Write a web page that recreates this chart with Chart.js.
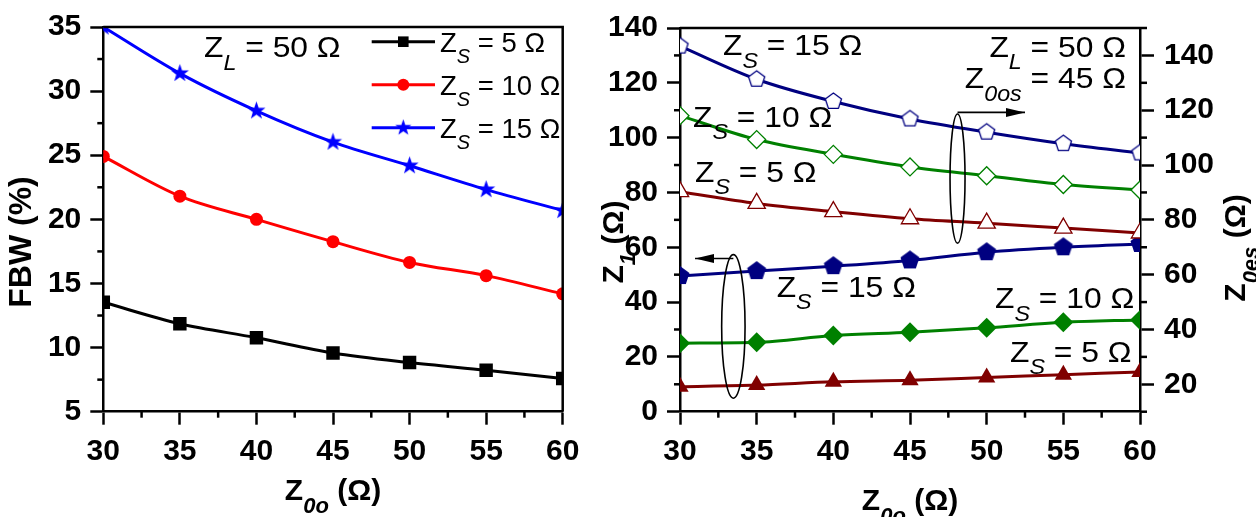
<!DOCTYPE html>
<html>
<head>
<meta charset="utf-8">
<script src="https://cdn.jsdelivr.net/npm/chart.js@4.4.1/dist/chart.umd.min.js"></script>
<style>
  html, body { margin: 0; padding: 0; background: #fff; }
  #wrap { position: relative; width: 1256px; height: 517px; overflow: hidden; }
  canvas { position: absolute; top: 0; }
  #left { left: 0; }
  #right { left: 600px; }
</style>
</head>
<body>
<div id="wrap">
  <canvas id="left" width="600" height="517"></canvas>
  <canvas id="right" width="656" height="517"></canvas>
</div>
<script>
/* Two-panel figure: FBW vs Z0o (left), Z1 / Z0es vs Z0o (right). */

const FONT = "'Liberation Sans', Arial, Helvetica, sans-serif";

// ----- Data -----
const Z0O_VALUES = [30, 35, 40, 45, 50, 55, 60];

const FBW_ZS5  = [13.53, 11.86, 10.77, 9.58, 8.83, 8.23, 7.59];
const FBW_ZS10 = [24.91, 21.81, 20.00, 18.26, 16.64, 15.61, 14.19];
const FBW_ZS15 = [35.00, 31.38, 28.46, 26.02, 24.18, 22.32, 20.69];

const Z1_ZS5   = [9.1, 9.7, 10.9, 11.5, 12.5, 13.5, 14.5];
const Z1_ZS10  = [25.0, 25.3, 27.8, 29.0, 30.6, 32.6, 33.5];
const Z1_ZS15  = [49.5, 51.3, 53.1, 55.2, 58.2, 60.0, 61.2];

const Z0ES_ZS5  = [90.3, 86.0, 83.0, 80.4, 78.8, 77.0, 75.2];
const Z0ES_ZS10 = [118.0, 109.3, 103.9, 99.3, 96.1, 92.9, 90.9];
const Z0ES_ZS15 = [143.4, 131.3, 123.2, 116.8, 112.0, 107.8, 104.4];

const ZS_LABELS = ["5", "10", "15"];

// ----- Tick labels -----
const X_TICKS    = [30, 35, 40, 45, 50, 55, 60];
const FBW_TICKS  = [5, 10, 15, 20, 25, 30, 35];
const Z1_TICKS   = [0, 20, 40, 60, 80, 100, 120, 140];
const Z0ES_TICKS = [20, 40, 60, 80, 100, 120, 140];

// ----- Layout (pixels) -----
const PLOT_TOP = 25, PLOT_BOTTOM = 411.7;
const AXIS_W = 2.5;

const pts = (ys) => Z0O_VALUES.map((x, i) => ({ x, y: ys[i] }));
const mids = (arr) => arr.slice(1).map((v, i) => (v + arr[i]) / 2);

// ----- Marker images (star, pentagon) -----
function polyMarker(r, n, inner, fill, stroke, lw) {
  const s = Math.ceil(2 * r + lw + 2);
  const c = document.createElement("canvas");
  c.width = c.height = s;
  const g = c.getContext("2d");
  g.translate(s / 2, s / 2);
  const k = inner ? n * 2 : n;
  g.beginPath();
  for (let i = 0; i < k; i++) {
    const a = -Math.PI / 2 + i * 2 * Math.PI / k;
    const rr = inner && i % 2 ? inner : r;
    g.lineTo(Math.cos(a) * rr, Math.sin(a) * rr);
  }
  g.closePath();
  g.fillStyle = fill; g.fill();
  if (lw) { g.strokeStyle = stroke; g.lineWidth = lw; g.stroke(); }
  return c;
}
const STAR_BLUE   = polyMarker(9.5, 5, 3.8, "#0000ff", "#0000ff", 0);
const STAR_LEG    = polyMarker(8.5, 5, 3.4, "#0000ff", "#0000ff", 0);
const PENTA_FILL  = polyMarker(10, 5, 0, "#000080", "#000080", 0);
const PENTA_OPEN  = polyMarker(8.5, 5, 0, "#ffffff", "#000080", 1.3);

// ----- Rich text with subscripts -----
function rich(ctx, x, y, parts, o) {
  const size = o.size, sub = o.sub || Math.round(size * 0.72);
  const b = o.bold ? "bold " : "";
  const fMain = `${b}${size}px ${FONT}`, fSub = `italic ${b}${sub}px ${FONT}`;
  ctx.save();
  ctx.translate(x, y);
  if (o.rot) ctx.rotate(o.rot);
  ctx.scale(o.sx || 1, 1);
  let w = 0;
  const ws = parts.map(([t, k]) => { ctx.font = k ? fSub : fMain; const m = ctx.measureText(t).width; w += m; return m; });
  let cx = o.align === "center" ? -w / 2 : o.align === "right" ? -w : 0;
  ctx.fillStyle = "#000"; ctx.textAlign = "left"; ctx.textBaseline = "alphabetic";
  parts.forEach(([t, k], i) => {
    ctx.font = k ? fSub : fMain;
    ctx.fillText(t, cx, k ? size * 0.42 : 0);
    cx += ws[i];
  });
  ctx.restore();
}
const zs = (v) => [["Z"], ["S", 1], [` = ${v} Ω`]];
const NOTE = { size: 30, sx: 1.06 };

// ----- Shared plugin bits -----
function minorTicks(chart, specs) {
  const ctx = chart.ctx;
  ctx.save();
  ctx.strokeStyle = "#000"; ctx.lineWidth = AXIS_W;
  for (const sp of specs) {
    const s = chart.scales[sp.id];
    for (const v of sp.values) {
      const p = s.getPixelForValue(v);
      ctx.beginPath();
      if (s.isHorizontal()) { ctx.moveTo(p, s.top); ctx.lineTo(p, s.top + sp.len); }
      else if (s.position === "left") { ctx.moveTo(s.right, p); ctx.lineTo(s.right - sp.len, p); }
      else { ctx.moveTo(s.left, p); ctx.lineTo(s.left + sp.len, p); }
      ctx.stroke();
    }
  }
  ctx.restore();
}
function frame(chart, right) {
  const a = chart.chartArea, ctx = chart.ctx;
  ctx.save();
  ctx.strokeStyle = "#000"; ctx.lineWidth = AXIS_W;
  ctx.beginPath();
  ctx.moveTo(a.left, a.top); ctx.lineTo(a.right, a.top);
  if (right) ctx.lineTo(a.right, a.bottom);
  ctx.stroke();
  ctx.restore();
}
function arrowHead(ctx, x, y, dir) {
  ctx.beginPath();
  ctx.moveTo(x, y);
  ctx.lineTo(x - dir * 19, y - 4.5);
  ctx.lineTo(x - dir * 19, y + 4.5);
  ctx.closePath(); ctx.fill();
}
// ellipse around a group of curves, with an arrow to its axis (data coords)
function groupMark(chart, g) {
  const xs = chart.scales.x, ys = chart.scales.y, ctx = chart.ctx;
  const cx = xs.getPixelForValue(g.x);
  const top = ys.getPixelForValue(g.top), bot = ys.getPixelForValue(g.bottom);
  const ay = ys.getPixelForValue(g.arrowY), ax = xs.getPixelForValue(g.arrowX);
  ctx.save();
  ctx.strokeStyle = "#000"; ctx.fillStyle = "#000"; ctx.lineWidth = 1.6;
  ctx.beginPath();
  ctx.ellipse(cx, (top + bot) / 2, g.rx, (bot - top) / 2, 0, 0, Math.PI * 2);
  ctx.stroke();
  ctx.beginPath(); ctx.moveTo(cx, ay); ctx.lineTo(ax, ay); ctx.stroke();
  arrowHead(ctx, ax, ay, ax > cx ? 1 : -1);
  ctx.restore();
}

function xScale() {
  return {
    type: "linear", min: 30, max: 60,
    afterBuildTicks: (s) => { s.ticks = X_TICKS.map((v) => ({ value: v })); },
    ticks: { color: "#000", font: { family: FONT, size: 30, weight: "bold" }, padding: 9, maxRotation: 0, autoSkip: false },
    grid: { drawOnChartArea: false, tickLength: 13, tickWidth: AXIS_W, tickColor: "#000" },
    border: { color: "#000", width: AXIS_W },
    afterFit: (s) => { s.height = 517 - PLOT_BOTTOM; },
  };
}
function yScale(min, max, ticks, width, pos, tickLen) {
  return {
    type: "linear", position: pos, min, max,
    afterBuildTicks: (s) => { s.ticks = ticks.map((v) => ({ value: v })); },
    ticks: { color: "#000", font: { family: FONT, size: 30, weight: "bold" }, padding: pos === "left" ? 9 : 10 },
    grid: { drawOnChartArea: false, tickLength: tickLen, tickWidth: AXIS_W, tickColor: "#000" },
    border: { color: "#000", width: AXIS_W },
    afterFit: (s) => { s.width = width; },
  };
}
const lineDs = (data, color, extra) => Object.assign({
  data: pts(data), borderColor: color, backgroundColor: color, borderWidth: 3,
  pointBackgroundColor: color, pointBorderColor: color, pointBorderWidth: 0,
  cubicInterpolationMode: "monotone",
}, extra);

// ----- Left panel: FBW -----
const LEFT_SERIES = [
  { data: FBW_ZS5,  color: "#000000", style: "rect",   r: 9.5, legStyle: "rect", legR: 7.5 },
  { data: FBW_ZS10, color: "#ff0000", style: "circle", r: 6.5, legStyle: "circle", legR: 6 },
  { data: FBW_ZS15, color: "#0000ff", style: STAR_BLUE, r: 9, legStyle: STAR_LEG, legR: 8 },
];

new Chart(document.getElementById("left"), {
  type: "line",
  data: {
    datasets: LEFT_SERIES.map((s, i) => lineDs(s.data, s.color, {
      label: "ZS = " + ZS_LABELS[i], pointStyle: s.style, pointRadius: s.r,
    })),
  },
  options: {
    responsive: false, animation: false, devicePixelRatio: 1, events: [],
    layout: { padding: { top: PLOT_TOP, right: 600 - 562.7, left: 0, bottom: 0 } },
    plugins: { legend: { display: false }, tooltip: { enabled: false } },
    scales: { x: xScale(), y: yScale(5, 35, FBW_TICKS, 103.3, "left", 13) },
  },
  plugins: [{
    id: "leftDecor",
    afterDraw(chart) {
      const ctx = chart.ctx;
      frame(chart, true);
      minorTicks(chart, [
        { id: "x", values: mids(X_TICKS), len: 6 },
        { id: "y", values: mids(FBW_TICKS), len: 6 },
      ]);
      // legend
      LEFT_SERIES.forEach((s, i) => {
        const y = 41.7 + i * 43;
        ctx.save();
        ctx.strokeStyle = s.color; ctx.fillStyle = s.color; ctx.lineWidth = 3;
        ctx.beginPath(); ctx.moveTo(371.7, y); ctx.lineTo(435, y); ctx.stroke();
        Chart.helpers.drawPoint(ctx, { pointStyle: s.legStyle, radius: s.legR, rotation: 0, borderWidth: 0 }, 403.3, y);
        ctx.restore();
        rich(ctx, 440, y + 10, zs(ZS_LABELS[i]), { size: 27.5 });
      });
      rich(ctx, 204, 57, [["Z"], ["L", 1], [" = 50 Ω"]], NOTE);
      // axis titles
      const a = chart.chartArea;
      rich(ctx, (a.left + a.right) / 2, 500, [["Z"], ["0o", 1], [" (Ω)"]], { size: 30, bold: true, sub: 22, align: "center" });
      rich(ctx, 31, 242, [["FBW (%)"]], { size: 32, bold: true, align: "center", rot: -Math.PI / 2 });
    },
  }],
});

// ----- Right panel: Z1 (left axis) and Z0es (right axis) -----
const NAVY = "#000080", GREEN = "#008000", DARKRED = "#800000";
const open = (color, style, r) => ({
  pointStyle: style, pointRadius: r, pointBackgroundColor: "#ffffff",
  pointBorderColor: color, pointBorderWidth: 1.3,
});

new Chart(document.getElementById("right"), {
  type: "line",
  data: {
    datasets: [
      lineDs(Z0ES_ZS15, NAVY,    Object.assign({ yAxisID: "y1" }, open(NAVY, PENTA_OPEN, 8.5))),
      lineDs(Z0ES_ZS10, GREEN,   Object.assign({ yAxisID: "y1" }, open(GREEN, "rectRot", 9))),
      lineDs(Z0ES_ZS5,  DARKRED, Object.assign({ yAxisID: "y1" }, open(DARKRED, "triangle", 10))),
      lineDs(Z1_ZS15, NAVY,    { yAxisID: "y", pointStyle: PENTA_FILL, pointRadius: 10 }),
      lineDs(Z1_ZS10, GREEN,   { yAxisID: "y", pointStyle: "rectRot", pointRadius: 10 }),
      lineDs(Z1_ZS5,  DARKRED, { yAxisID: "y", pointStyle: "triangle", pointRadius: 10 }),
    ],
  },
  options: {
    responsive: false, animation: false, devicePixelRatio: 1, events: [],
    layout: { padding: { top: PLOT_TOP, right: 0, left: 0, bottom: 0 } },
    plugins: { legend: { display: false }, tooltip: { enabled: false } },
    scales: {
      x: xScale(),
      y: yScale(0, 140, Z1_TICKS, 80, "left", 13),
      y1: yScale(10, 150, Z0ES_TICKS, 116, "right", 14),
    },
  },
  plugins: [{
    id: "rightDecor",
    afterDraw(chart) {
      const ctx = chart.ctx;
      frame(chart, false);
      minorTicks(chart, [
        { id: "x", values: mids(X_TICKS), len: 6 },
        { id: "y", values: mids(Z1_TICKS), len: 6 },
        { id: "y1", values: [10].concat(mids(Z0ES_TICKS), [150]), len: 7 },
      ]);
      groupMark(chart, { x: 48.1, top: 108.6, bottom: 61.5, rx: 7.5, arrowY: 109.2, arrowX: 52.5 });
      groupMark(chart, { x: 33.48, top: 57.3, bottom: 4.9, rx: 11.7, arrowY: 55.9, arrowX: 30.98 });

      rich(ctx, 123, 55, zs(15), NOTE);
      rich(ctx, 93, 126.7, zs(10), NOTE);
      rich(ctx, 95, 181.7, zs(5), NOTE);
      rich(ctx, 526, 56.7, [["Z"], ["L", 1], [" = 50 Ω"]], Object.assign({ align: "right" }, NOTE));
      rich(ctx, 526, 88.3, [["Z"], ["0os", 1], [" = 45 Ω"]], Object.assign({ align: "right" }, NOTE));
      rich(ctx, 176.7, 296.7, zs(15), NOTE);
      rich(ctx, 395, 308.3, zs(10), NOTE);
      rich(ctx, 410, 361.7, zs(5), NOTE);

      const a = chart.chartArea;
      rich(ctx, (a.left + a.right) / 2, 510, [["Z"], ["0o", 1], [" (Ω)"]], { size: 30, bold: true, sub: 22, align: "center" });
      rich(ctx, 22.5, 242, [["Z"], ["1", 1], [" (Ω)"]], { size: 30, bold: true, sub: 22, align: "center", rot: -Math.PI / 2 });
      rich(ctx, 645, 248, [["Z"], ["0es", 1], [" (Ω)"]], { size: 30, bold: true, sub: 22, align: "center", rot: -Math.PI / 2 });
    },
  }],
});
</script>
</body>
</html>
